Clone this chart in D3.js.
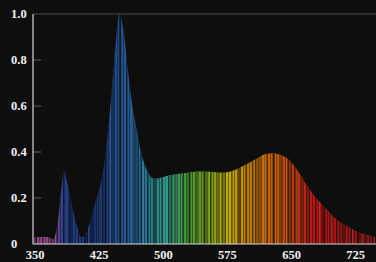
<!DOCTYPE html>
<html>
<head>
<meta charset="utf-8">
<script src="https://cdn.jsdelivr.net/npm/d3@7"></script>
<style>
  body { margin: 0; background: #0e0e0e; }
  svg { display: block; }
</style>
</head>
<body>
<div id="chart"></div>
<script>
// spectrum (nm -> relative intensity)
const wavelengths = [350, 355, 360, 365, 370, 373, 375, 378, 380, 383, 385, 388, 390, 395, 400, 405,
    410, 415, 420, 425, 430, 435, 440, 445, 448, 450, 452, 455, 460, 465, 470, 475, 480, 485, 490, 495,
    500, 510, 520, 530, 540, 550, 560, 570, 580, 590, 600, 610, 620, 630, 640, 650, 660, 670, 680, 690,
    700, 710, 720, 730, 740, 750];
const intensity = [0.03, 0.03, 0.032, 0.03, 0.025, 0.02, 0.04, 0.1, 0.17, 0.27, 0.32, 0.28, 0.25, 0.16, 0.08, 0.03,
    0.04, 0.09, 0.16, 0.22, 0.3, 0.43, 0.63, 0.85, 0.97, 1.0, 0.98, 0.92, 0.75, 0.6, 0.5, 0.4, 0.34, 0.3, 0.285, 0.285,
    0.29, 0.3, 0.305, 0.31, 0.315, 0.315, 0.313, 0.31, 0.315, 0.33, 0.35, 0.37, 0.39, 0.395, 0.385, 0.36, 0.31, 0.25, 0.2, 0.16,
    0.12, 0.09, 0.07, 0.05, 0.04, 0.03];
const xTicks = [350, 425, 500, 575, 650, 725];
const yTicks = [0, 0.2, 0.4, 0.6, 0.8, 1.0];

const width = 376;
const height = 262;
const margin = { top: 14, right: 0, bottom: 18, left: 34 };

const x = d3.scaleLinear().domain([350, 750]).range([margin.left, width - margin.right]);
const y = d3.scaleLinear().domain([0, 1]).range([height - margin.bottom, margin.top]);

// wavelength -> display colour
const hue = d3.scaleLinear()
    .domain([350, 372, 385, 420, 455, 475, 492, 505, 530, 555, 578, 600, 625, 650, 675, 710, 750])
    .range(["#84467e", "#944888", "#223f86", "#182e66", "#26528f", "#276893", "#278282", "#32988a",
            "#469432", "#76981e", "#c2a810", "#b87a10", "#c86612", "#b04412", "#b41a14", "#981818", "#741a1a"])
    .clamp(true);

const svg = d3.select("#chart")
    .append("svg")
    .attr("width", width)
    .attr("height", height);

svg.append("rect").attr("width", width).attr("height", height).attr("fill", "#0e0e0e");

const defs = svg.append("defs");
const grad = defs.append("linearGradient")
    .attr("id", "spec")
    .attr("gradientUnits", "userSpaceOnUse")
    .attr("x1", x(350)).attr("x2", x(750))
    .attr("y1", 0).attr("y2", 0);
d3.range(350, 751, 5).forEach(w => {
    grad.append("stop")
        .attr("offset", (w - 350) / 400)
        .attr("stop-color", hue(w));
});

// thin dark / light stripes for the banded look
const stripes = [
    { id: "s1", w: 3, bar: 1, color: "#000", op: 0.38 },
    { id: "s2", w: 7, bar: 2, color: "#000", op: 0.32 },
    { id: "s3", w: 11, bar: 1, color: "#fff", op: 0.1 },
    { id: "s4", w: 17, bar: 3, color: "#000", op: 0.28 }
];
stripes.forEach(s => {
    const p = defs.append("pattern")
        .attr("id", s.id)
        .attr("patternUnits", "userSpaceOnUse")
        .attr("width", s.w).attr("height", 10);
    p.append("rect").attr("width", s.bar).attr("height", 10)
        .attr("fill", s.color).attr("fill-opacity", s.op);
});

const data = wavelengths.map((w, i) => ({ w: w, v: intensity[i] }));

const area = d3.area()
    .x(d => x(d.w))
    .y0(y(0))
    .y1(d => y(d.v))
    .curve(d3.curveMonotoneX);

svg.append("path")
    .datum(data)
    .attr("d", area)
    .attr("fill", "url(#spec)");

stripes.forEach(s => {
    svg.append("path")
        .datum(data)
        .attr("d", area)
        .attr("fill", `url(#${s.id})`);
});

// frame
svg.append("line")
    .attr("x1", x(350) - 1).attr("x2", width)
    .attr("y1", y(1)).attr("y2", y(1))
    .attr("stroke", "#4a4a4a").attr("stroke-width", 1.2);

svg.selectAll(".ytick")
    .data(yTicks.filter(t => t > 0 && t < 1))
    .enter().append("line")
    .attr("x1", x(350) - 1).attr("x2", x(350) + 7)
    .attr("y1", d => y(d)).attr("y2", d => y(d))
    .attr("stroke", "#5a5a5a").attr("stroke-width", 1);

svg.append("line")
    .attr("x1", x(350) - 1).attr("x2", x(350) - 1)
    .attr("y1", y(1)).attr("y2", y(0))
    .attr("stroke", "#d8d8d8").attr("stroke-width", 1.2);

svg.append("line")
    .attr("x1", x(350) - 1).attr("x2", width)
    .attr("y1", y(0)).attr("y2", y(0))
    .attr("stroke", "#d8d8d8").attr("stroke-width", 1.2);

const font = "'Liberation Serif', 'DejaVu Serif', serif";

svg.selectAll(".ylab")
    .data(yTicks)
    .enter().append("text")
    .attr("x", 11)
    .attr("y", d => y(d))
    .attr("dy", "0.35em")
    .attr("fill", "#f0f0f0")
    .style("font-family", font)
    .style("font-weight", "bold")
    .style("font-size", "12.5px")
    .text(d => d === 0 ? "0" : d.toFixed(1));

svg.selectAll(".xlab")
    .data(xTicks)
    .enter().append("text")
    .attr("x", d => x(d) + 1)
    .attr("y", height - 3)
    .attr("text-anchor", "middle")
    .attr("fill", "#f0f0f0")
    .style("font-family", font)
    .style("font-weight", "bold")
    .style("font-size", "12.5px")
    .text(d => d);
</script>
</body>
</html>
